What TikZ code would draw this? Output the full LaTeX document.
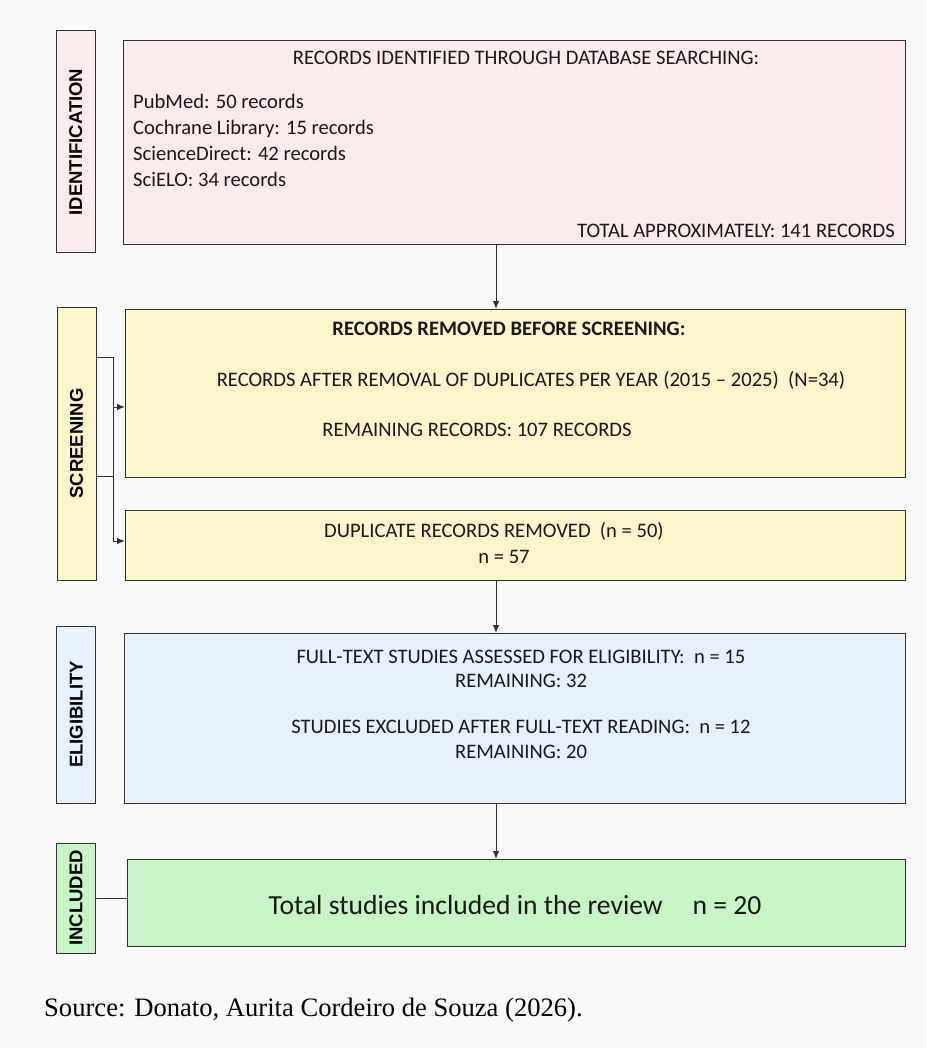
\documentclass[tikz,border=0pt]{standalone}
\usepackage{fontspec}
\setmainfont{Carlito}
\newfontfamily\stagefont{Liberation Sans}
\newfontfamily\sourcefont{Liberation Serif}
\usetikzlibrary{arrows.meta}

\definecolor{bgcol}{HTML}{F9F9F9}
\definecolor{linecol}{HTML}{333333}
\definecolor{pinkfill}{HTML}{FBEDED}
\definecolor{yellowfill}{HTML}{FBF7CA}
\definecolor{bluefill}{HTML}{E8F2FC}
\definecolor{greenfill}{HTML}{C8F4C8}

\tikzset{
  box/.style={draw=linecol, line width=1pt, anchor=north west, inner sep=0pt},
  stagebox/.style={draw=linecol, line width=1pt, rotate=90, inner sep=0pt,
    minimum height=39pt, font=\stagefont\bfseries\fontsize{18.5}{20}\selectfont},
  txt/.style={font=\fontsize{20.6}{22}\selectfont, inner sep=0pt, text=black!90},
  flow/.style={-{Latex[length=8pt,width=6.5pt]}, line width=1pt, draw=linecol},
  link/.style={line width=1pt, draw=linecol}
}

\begin{document}
\begin{tikzpicture}[x=1pt,y=-1pt]
                \useasboundingbox[fill=bgcol] (0,0) rectangle (926,1048);

                % stage labels
                \node[stagebox, fill=pinkfill, minimum width=222pt] (idlab) at (75.8,142) {IDENTIFICATION};
                \node[stagebox, fill=yellowfill, minimum width=273pt] (scrlab) at (76.5,443.5) {SCREENING};
                \node[stagebox, fill=bluefill, minimum width=177pt] (eliglab) at (76.3,714.5) {ELIGIBILITY};
                \node[stagebox, fill=greenfill, minimum width=110pt] (incllab) at (76,898) {INCLUDED};

                % boxes
                \node[box, fill=pinkfill, minimum width=782pt, minimum height=204pt] (ident) at (123,40) {};
                \node[box, fill=yellowfill, minimum width=780pt, minimum height=168pt] (scr1) at (125,309) {};
                \node[box, fill=yellowfill, minimum width=780pt, minimum height=70pt] (scr2) at (125,510) {};
                \node[box, fill=bluefill, minimum width=781pt, minimum height=170pt] (elig) at (124,633) {};
                \node[box, fill=greenfill, minimum width=778pt, minimum height=87pt] (incl) at (127,859) {};

                % texts
                \node[txt] (idtitle) at (526,58) {RECORDS IDENTIFIED THROUGH DATABASE SEARCHING:};
                \node[txt, anchor=base west] (db1) at (133,109) {PubMed: 50 records};
                \node[txt, anchor=base west] (db2) at (133,135) {Cochrane Library: 15 records};
                \node[txt, anchor=base west] (db3) at (133,161) {ScienceDirect: 42 records};
                \node[txt, anchor=base west] (db4) at (133,187) {SciELO: 34 records};
                \node[txt, anchor=base east] (idtotal) at (895,238) {TOTAL APPROXIMATELY: 141 RECORDS};

                \node[txt, font=\bfseries\fontsize{20.6}{22}\selectfont] (scrtitle) at (509,329) {RECORDS REMOVED BEFORE SCREENING:};
                \node[txt] (scrafter) at (531,380) {RECORDS AFTER REMOVAL OF DUPLICATES PER YEAR (2015 -- 2025)\ \ (N=34)};
                \node[txt] (scrleft) at (477,430) {REMAINING RECORDS: 107 RECORDS};
                \node[txt] (duprem) at (494,531) {DUPLICATE RECORDS REMOVED\ \ (n = 50)};
                \node[txt, anchor=base] (dupn) at (504,563) {n = 57};

                \node[txt] (fulltext) at (521,657) {FULL-TEXT STUDIES ASSESSED FOR ELIGIBILITY:\ \ n = 15};
                \node[txt] (left32) at (521,681) {REMAINING: 32};
                \node[txt] (excluded) at (521,727) {STUDIES EXCLUDED AFTER FULL-TEXT READING:\ \ n = 12};
                \node[txt] (left20) at (521,752) {REMAINING: 20};

                \node[txt, font=\fontsize{27.6}{30}\selectfont] (total) at (515,905) {Total studies included in the review\hspace{30pt}n = 20};

                \node[inner sep=0pt, anchor=west, font=\sourcefont\fontsize{26.6}{28}\selectfont] (source) at (44,1010) {Source: Donato, Aurita Cordeiro de Souza (2026).};

                % connectors
                \coordinate (spine) at (496,0);
                \draw[flow] (ident.south -| spine) -- (scr1.north -| spine);
                \draw[flow] (scr2.south -| spine) -- (elig.north -| spine);
                \draw[flow] (elig.south -| spine) -- (incl.north -| spine);

                \coordinate (brtop) at (113,357);
                \coordinate (brmid) at (113,476);
                \coordinate (brbot) at (113,541);
                \draw[link] (scrlab.south |- brtop) -- (brtop) -- (brbot);
                \draw[link] (scrlab.south |- brmid) -- (brmid);
                \draw[flow] (113,407) -- (scr1.west |- 0,407);
                \draw[flow] (brbot) -- (scr2.west |- brbot);
                \draw[link] (incllab.south) -- (incllab.south -| incl.west);
            \end{tikzpicture}
\end{document}
